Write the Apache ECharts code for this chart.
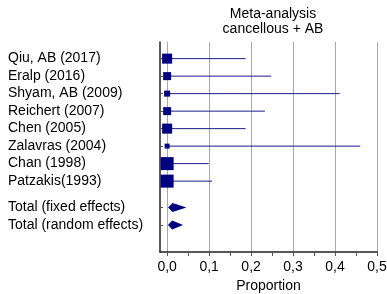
<!DOCTYPE html>
<html>
<head>
<meta charset="utf-8">
<script src="https://cdn.jsdelivr.net/npm/echarts@6/dist/echarts.min.js"></script>
<style>
  html, body { margin: 0; padding: 0; background: #fff; }
  #main { width: 387px; height: 294px; }
</style>
</head>
<body>
<div id="main"></div>
<script>
// studies (top to bottom)
var studies = ['Qiu, AB (2017)', 'Eralp (2016)', 'Shyam, AB (2009)', 'Reichert (2007)',
    'Chen (2005)', 'Zalavras (2004)', 'Chan (1998)', 'Patzakis(1993)'];
var studyEst = [0, 0, 0, 0, 0, 0, 0, 0];
var studyLower = [0, 0, 0, 0, 0, 0, 0, 0];
var studyUpper = [0.187, 0.248, 0.411, 0.233, 0.187, 0.460, 0.099, 0.107];
// relative weights (%)
var studyWeight = [13.8, 8.8, 5.0, 8.8, 13.8, 3.4, 23.2, 23.2];

// pooled estimates
var totals = ['Total (fixed effects)', 'Total (random effects)'];
var totalEst = [0.013, 0.012];
var totalLower = [0.002, 0.002];
var totalUpper = [0.046, 0.038];

var xLabels = [0, 0.1, 0.2, 0.3, 0.4, 0.5];
var xTicks = [0, 0.05, 0.1, 0.15, 0.2, 0.25, 0.3, 0.35, 0.4, 0.45, 0.5];

var FONT = 'Liberation Sans, Arial, sans-serif';
var X_MIN = -0.017, X_MAX = 0.5;
var Y_MIN = -0.95, Y_MAX = 11.05;

// row positions: studies one per row, totals after a half-row gap
var rowNames = {};
var rowPos = [];
var ciData = [], sqData = [], dmData = [];
for (var i = 0; i < studies.length; i++) {
    rowNames[i] = studies[i];
    rowPos.push(i);
    ciData.push([studyLower[i], studyUpper[i], i]);
    sqData.push({value: [studyEst[i], i], symbolSize: Math.sqrt(studyWeight[i]) * 2.7});
}
for (var j = 0; j < totals.length; j++) {
    var p = studies.length + 0.5 + j;
    rowNames[p] = totals[j];
    rowPos.push(p);
    dmData.push([totalLower[j], totalEst[j], totalUpper[j], p]);
}

var chart = echarts.init(document.getElementById('main'));
var option = {
    animation: false,
    title: {
        text: 'Meta-analysis\ncancellous + AB',
        left: 268,
        top: 2,
        textAlign: 'center',
        textStyle: {fontFamily: FONT, fontSize: 14, fontWeight: 'normal', color: '#000', lineHeight: 15}
    },
    grid: {left: 160, right: 10, top: 42, bottom: 42, outerBoundsMode: 'none'},
    xAxis: [
        {
            type: 'value',
            min: X_MIN,
            max: X_MAX,
            name: 'Proportion',
            nameLocation: 'middle',
            nameGap: 27,
            nameTextStyle: {fontFamily: FONT, fontSize: 14, color: '#000'},
            axisLine: {onZero: false, lineStyle: {color: '#222', width: 1.5}},
            axisTick: {show: true, customValues: xTicks, length: 4, lineStyle: {color: '#555'}},
            axisLabel: {
                customValues: xLabels, margin: 8,
                fontFamily: FONT, fontSize: 14, color: '#000',
                formatter: function (v) { return v.toFixed(1).replace('.', ','); }
            },
            splitLine: {show: false}
        },
        {
            // twin axis, only used for the vertical grid lines
            type: 'value',
            position: 'bottom',
            min: X_MIN,
            max: X_MAX,
            axisLine: {show: false, onZero: false},
            axisTick: {show: false, customValues: xLabels},
            axisLabel: {show: false, customValues: xLabels},
            splitLine: {show: true, lineStyle: {color: '#a8a8a8', width: 1}}
        }
    ],
    yAxis: {
        type: 'value',
        inverse: true,
        min: Y_MIN,
        max: Y_MAX,
        axisLine: {show: true, onZero: false, lineStyle: {color: '#222', width: 1.5}},
        axisTick: {show: true, inside: true, customValues: rowPos, length: 3, lineStyle: {color: '#555'}},
        axisLabel: {
            customValues: rowPos, align: 'left', margin: 152,
            fontFamily: FONT, fontSize: 14, color: '#000',
            formatter: function (v) { return rowNames[v] || ''; }
        },
        splitLine: {show: false}
    },
    series: [
        {
            type: 'custom',
            data: ciData,
            z: 2,
            renderItem: function (params, api) {
                var a = api.coord([api.value(0), api.value(2)]);
                var b = api.coord([api.value(1), api.value(2)]);
                return {
                    type: 'line',
                    shape: {x1: a[0], y1: a[1], x2: b[0], y2: b[1]},
                    style: {stroke: '#1c1c8a', lineWidth: 1}
                };
            }
        },
        {
            type: 'scatter',
            symbol: 'rect',
            data: sqData,
            z: 3,
            itemStyle: {color: '#000080', opacity: 1}
        },
        {
            type: 'custom',
            data: dmData,
            z: 3,
            renderItem: function (params, api) {
                var y = api.value(3);
                var l = api.coord([api.value(0), y]);
                var m = api.coord([api.value(1), y]);
                var r = api.coord([api.value(2), y]);
                var h = 4.5;
                return {
                    type: 'polygon',
                    shape: {points: [[l[0], l[1]], [m[0], m[1] - h], [r[0], r[1]], [m[0], m[1] + h]]},
                    style: {fill: '#000080'}
                };
            }
        }
    ]
};
chart.setOption(option);
</script>
</body>
</html>
